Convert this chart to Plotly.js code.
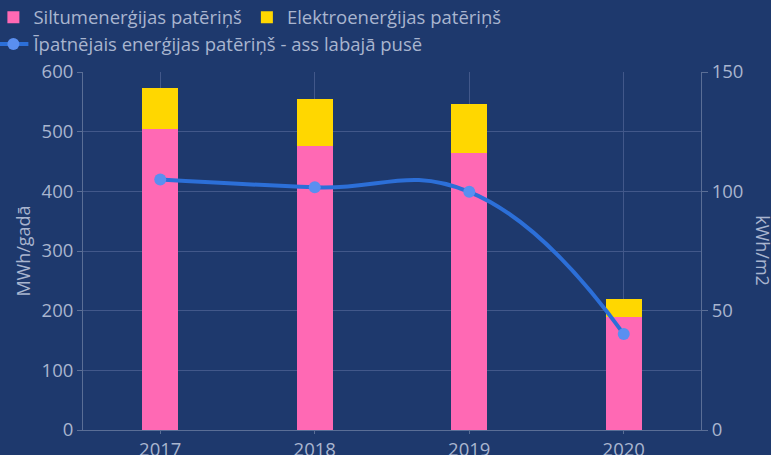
<!DOCTYPE html>
<html>
<head>
<meta charset="utf-8">
<script src="https://cdn.plot.ly/plotly-3.0.1.min.js"></script>
<style>html,body{margin:0;padding:0;background:#1e396d;}#chart{width:771px;height:455px;}</style>
</head>
<body>
<div id="chart"></div>
<script>
const years = ['2017', '2018', '2019', '2020'];
const heatValues = [505, 476, 465, 190];
const electricityValues = [68, 79, 81, 29];
const specificValues = [105, 101.7, 99.8, 40.2];

const fontColor = '#a9b5cf';
const gridColor = '#42588a';
const lineColor = '#5a6e96';

const traces = [
  {type: 'bar', name: 'Siltumenerģijas patēriņš', x: years, y: heatValues, marker: {color: '#ff69b4'}, legend: 'legend'},
  {type: 'bar', name: 'Elektroenerģijas patēriņš', x: years, y: electricityValues, marker: {color: '#ffd700'}, legend: 'legend'},
  {type: 'scatter', mode: 'lines+markers', name: 'Īpatnējais enerģijas patēriņš - ass labajā pusē',
   x: years, y: specificValues, yaxis: 'y2', legend: 'legend2',
   line: {color: '#2c6fd8', width: 4, shape: 'spline', smoothing: 1.3},
   marker: {color: '#5a8ff0', size: 12}}
];

const legendCommon = {orientation: 'h', x: -0.145, xanchor: 'left', yanchor: 'top',
  font: {size: 18.5, color: fontColor}, bgcolor: 'rgba(0,0,0,0)', traceorder: 'normal', itemwidth: 30};

const layout = {
  width: 771, height: 455,
  paper_bgcolor: '#1e396d', plot_bgcolor: '#1e396d',
  font: {family: 'Open Sans, Noto Sans, sans-serif', color: fontColor, size: 18},
  margin: {l: 83, r: 70, t: 72, b: 25, autoexpand: false},
  barmode: 'stack', bargap: 0.77,
  showlegend: true,
  legend: Object.assign({}, legendCommon, {y: 1.205}),
  legend2: Object.assign({}, legendCommon, {y: 1.13}),
  xaxis: {type: 'category', showgrid: true, gridcolor: gridColor, showline: true, linecolor: lineColor,
          ticks: 'outside', tickcolor: lineColor, ticklen: 3, tickfont: {size: 18.5}},
  yaxis: {range: [0, 600], dtick: 100, showgrid: true, gridcolor: gridColor, showline: true, linecolor: lineColor,
          ticks: 'outside', tickcolor: lineColor, ticklen: 5, zeroline: false,
          title: {text: 'MWh/gadā', font: {size: 18}, standoff: 6}, tickfont: {size: 18.5}},
  yaxis2: {range: [0, 150], dtick: 50, overlaying: 'y', side: 'right', showgrid: false, showline: true,
           linecolor: lineColor, ticks: 'outside', tickcolor: lineColor, ticklen: 6, zeroline: false,
           tickfont: {size: 18.5}},
  annotations: [{text: 'kWh/m2', xref: 'paper', yref: 'paper', x: 1.1, y: 0.5, xanchor: 'center', yanchor: 'middle',
                 textangle: 90, showarrow: false, font: {size: 18, color: fontColor}}]
};

Plotly.newPlot('chart', traces, layout, {displayModeBar: false, staticPlot: true});
</script>
</body>
</html>
